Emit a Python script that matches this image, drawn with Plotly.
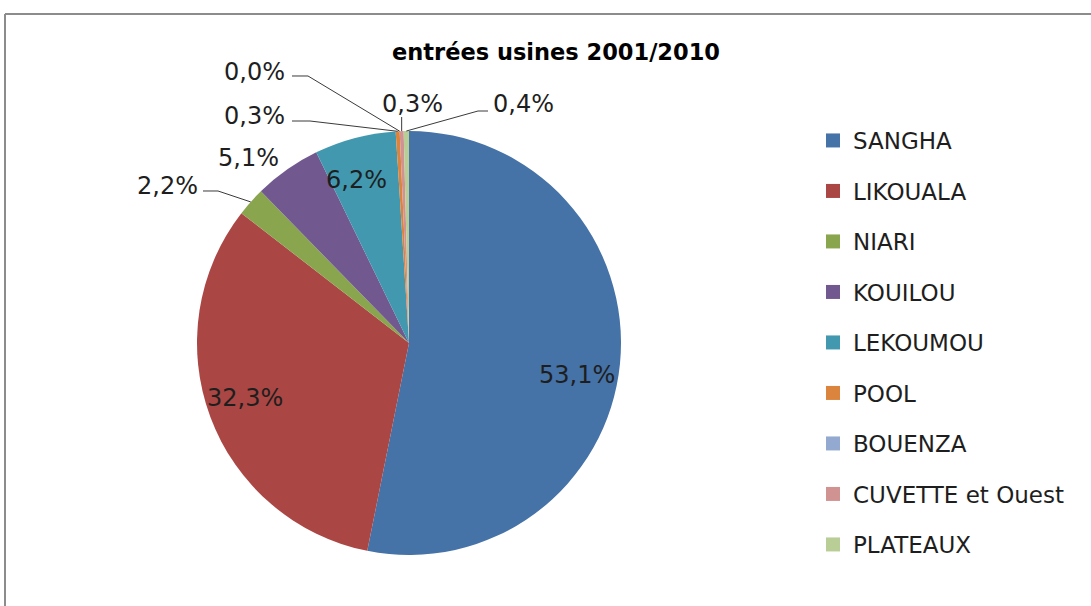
import math
import plotly.graph_objects as go

# Regions and their share of factory intake (percent), clockwise from 12 o'clock
regions = ["SANGHA", "LIKOUALA", "NIARI", "KOUILOU", "LEKOUMOU",
           "POOL", "BOUENZA", "CUVETTE et Ouest", "PLATEAUX"]
shares = [53.1, 32.3, 2.2, 5.1, 6.2, 0.3, 0.0, 0.3, 0.4]
colors = ["#4572A7", "#AA4643", "#89A54E", "#71588F", "#4198AF",
          "#DB843D", "#93A9CF", "#D19392", "#B9CD96"]

W, H = 1091, 606
CX, CY, R = 409, 343, 212          # pie centre and radius in pixels
FONT = "DejaVu Sans"
TXT = "#1e1e1e"
LINE = "#3a3a3a"


def px(x):
    return x / W


def py(y):
    return 1 - y / H


def fmt(v):
    return f"{v:.1f}".replace(".", ",") + "%"


fig = go.Figure()

fig.add_trace(go.Pie(
    labels=regions, values=shares, sort=False, direction="clockwise", rotation=0,
    marker=dict(colors=colors, line=dict(width=0)),
    textinfo="none",
    domain=dict(x=[px(CX - R), px(CX + R)], y=[py(CY + R), py(CY - R)]),
    showlegend=False, hoverinfo="label+value",
))

# legend entries, one group per region so the vertical spacing can be set
for name, col in zip(regions, colors):
    fig.add_trace(go.Scatter(
        x=[None], y=[None], mode="markers", name=name, legendgroup=name,
        marker=dict(symbol="square", size=14, color=col),
    ))

# edge point of each slice at its mid-angle
total = sum(shares)
cum = 0.0
edge = {}
for name, v in zip(regions, shares):
    mid = (cum + v / 2) / total * 2 * math.pi
    edge[name] = (CX + R * math.sin(mid), CY - R * math.cos(mid))
    cum += v

# value labels: region -> label centre (px), and leader elbow / end (px) if any
labels = {
    "SANGHA": ((577, 375), None),
    "LIKOUALA": ((245, 398), None),
    "LEKOUMOU": ((356, 180), None),
    "KOUILOU": ((248, 158), None),
    "NIARI": ((167, 186), [(218, 191), (203, 191)]),
    "POOL": ((254, 116), [(310, 121), (292, 121)]),
    "BOUENZA": ((254, 72), [(308, 76), (292, 76)]),
    "CUVETTE et Ouest": ((412, 104), "vertical"),
    "PLATEAUX": ((523, 104), [(478, 111), (488, 111)]),
}

annotations = []
shapes = []
for name, ((tx, ty), leader) in labels.items():
    val = shares[regions.index(name)]
    annotations.append(dict(
        x=px(tx), y=py(ty), xref="paper", yref="paper", text=fmt(val),
        xanchor="center", yanchor="middle",
        showarrow=False, font=dict(family=FONT, size=24, color=TXT),
    ))
    if leader is None:
        continue
    ex, ey = edge[name]
    if leader == "vertical":
        pts = [(ex, ey), (ex, ty + 13)]
    else:
        pts = [(ex, ey)] + leader
    path = "M " + " L ".join(f"{px(x):.5f},{py(y):.5f}" for x, y in pts)
    shapes.append(dict(type="path", xref="paper", yref="paper", path=path,
                       line=dict(color=LINE, width=1)))

# chart frame
shapes += [
    dict(type="line", xref="paper", yref="paper", x0=px(5), x1=1.01,
         y0=py(14), y1=py(14), line=dict(color="#8C8C8C", width=2)),
    dict(type="line", xref="paper", yref="paper", x0=px(5), x1=px(5),
         y0=py(14), y1=-0.01, line=dict(color="#8C8C8C", width=2)),
]

fig.update_layout(
    width=W, height=H, margin=dict(l=0, r=0, t=0, b=0),
    paper_bgcolor="white", plot_bgcolor="white",
    title=dict(text="<b>entrées usines 2001/2010</b>", x=px(556), xanchor="center",
               y=py(52), yanchor="middle",
               font=dict(family=FONT, size=22.5, color="#000000")),
    xaxis=dict(visible=False), yaxis=dict(visible=False),
    legend=dict(x=px(813), y=py(119), xanchor="left", yanchor="top",
                font=dict(family=FONT, size=23, color=TXT),
                tracegroupgap=17.6, bgcolor="rgba(0,0,0,0)"),
    annotations=annotations,
    shapes=shapes,
)

fig.write_html("out.html")
